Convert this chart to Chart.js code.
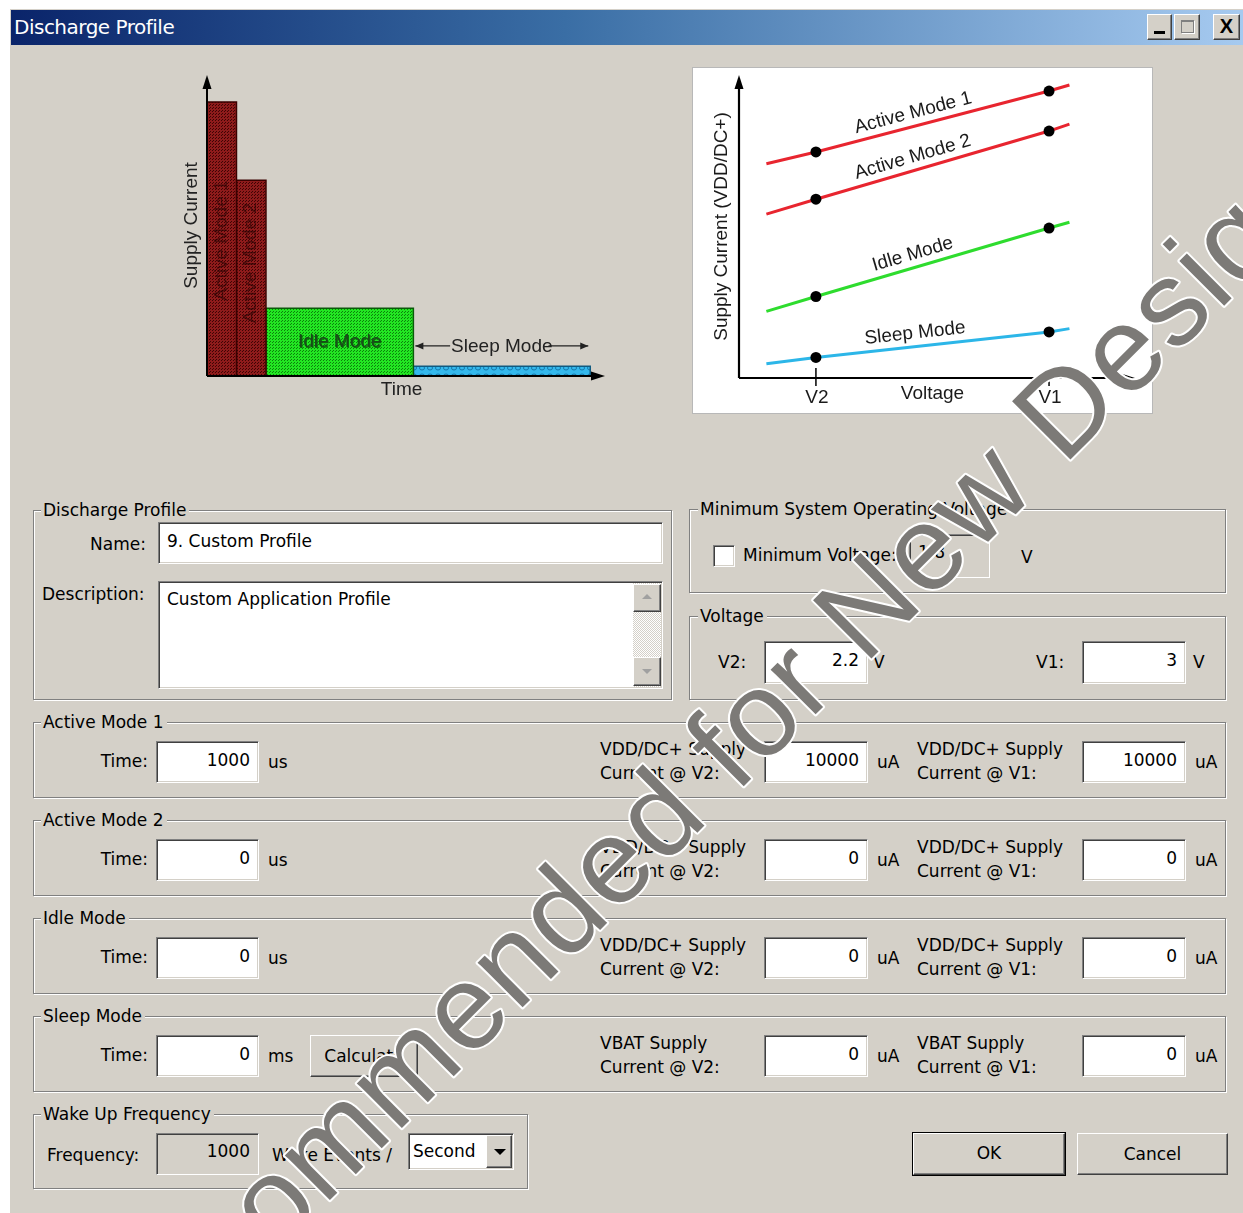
<!DOCTYPE html>
<html>
<head>
<meta charset="utf-8">
<title>Discharge Profile</title>
<script src="https://cdn.jsdelivr.net/npm/chart.js@4.4.1/dist/chart.umd.min.js"></script>
<style>
  body { margin:0; width:1243px; height:1213px; overflow:hidden; position:relative; background:#fff;
         font-family:"DejaVu Sans", sans-serif; font-size:17px; color:#000; }
  .a { position:absolute; box-sizing:border-box; }
  .t { position:absolute; white-space:nowrap; line-height:20px; }
  .grp { position:absolute; box-sizing:border-box; border:1px solid #808080; box-shadow:inset 1px 1px 0 #fff, 1px 1px 0 #fff; }
  .lg { position:absolute; background:#d4d0c8; padding:0 3px 0 2px; line-height:20px; white-space:nowrap; }
  .in { position:absolute; box-sizing:border-box; background:#fff; border:1px solid; border-color:#808080 #fff #fff #808080;
        box-shadow:inset 1px 1px 0 #404040, inset -1px -1px 0 #d4d0c8; text-align:right; padding-right:8px;
        white-space:nowrap; line-height:36px; }
  .dis { background:#d4d0c8; }
  .btn { position:absolute; box-sizing:border-box; background:#d4d0c8; border:1px solid; border-color:#fff #404040 #404040 #fff;
         box-shadow:inset -1px -1px 0 #808080; text-align:center; }
</style>
</head>
<body>
<!-- window -->
<div class="a" style="left:9px;top:8px;width:1234px;height:1205px;background:#d4d0c8;border-left:1px solid #fff;border-top:1px solid #fff"></div>
<div class="a" style="left:11px;top:10px;width:1232px;height:35px;background:linear-gradient(90deg,#0a246a 0%,#3a6ea5 45%,#a6caf0 100%)"></div>
<div class="t" style="left:14px;top:17px;color:#fff;font:20px 'DejaVu Sans',sans-serif;letter-spacing:-0.5px;line-height:20px">Discharge Profile</div>
<div class="btn" style="left:1147px;top:14px;width:25px;height:26px"><div class="a" style="left:6px;top:16px;width:11px;height:3px;background:#000"></div></div>
<div class="btn" style="left:1174px;top:14px;width:26px;height:26px"><div class="a" style="left:6px;top:5px;width:13px;height:13px;border:1px solid #808080;border-top-width:2px;box-shadow:1px 1px 0 #fff"></div></div>
<div class="btn" style="left:1213px;top:14px;width:27px;height:26px;font:bold 20px 'Liberation Sans',Arial,sans-serif;line-height:23px">X</div>

<!-- sketches -->
<canvas id="profile" width="450" height="350" style="position:absolute;left:170px;top:60px"></canvas>
<div class="a" style="left:692px;top:67px;width:461px;height:347px;border:1px solid #b8b8b8;background:#fff"></div>
<canvas id="vcurve" width="459" height="345" style="position:absolute;left:693px;top:68px"></canvas>

<!-- Discharge Profile group -->
<div class="grp" style="left:33px;top:510px;width:639px;height:190px"></div>
<div class="lg" style="left:41px;top:500px">Discharge Profile</div>
<div class="t" style="right:1097px;top:534px">Name:</div>
<div class="in" style="left:158px;top:522px;width:505px;height:42px;text-align:left;padding-left:8px">9. Custom Profile</div>
<div class="t" style="left:42px;top:584px">Description:</div>
<div class="in" style="left:158px;top:581px;width:505px;height:108px;text-align:left;padding-left:8px;line-height:34px">Custom Application Profile</div>
<div class="a" style="left:633px;top:583px;width:28px;height:104px;background:repeating-conic-gradient(#fff 0 25%,#d4d0c8 0 50%) 0 0/2px 2px"></div>
<div class="btn" style="left:633px;top:584px;width:28px;height:28px"><div class="a" style="left:8px;top:9px;width:0;height:0;border-left:5px solid transparent;border-right:5px solid transparent;border-bottom:5px solid #a0a0a0"></div></div>
<div class="btn" style="left:633px;top:657px;width:28px;height:29px"><div class="a" style="left:8px;top:11px;width:0;height:0;border-left:5px solid transparent;border-right:5px solid transparent;border-top:5px solid #a0a0a0"></div></div>

<!-- Minimum System Operating Voltage -->
<div class="grp" style="left:689px;top:509px;width:537px;height:84px"></div>
<div class="lg" style="left:698px;top:499px">Minimum System Operating Voltage</div>
<div class="in" style="left:713px;top:545px;width:22px;height:22px"></div>
<div class="t" style="left:743px;top:545px">Minimum Voltage:</div>
<div class="in dis" style="left:909px;top:534px;width:81px;height:44px;text-align:left;padding-left:8px;line-height:34px">1.8</div>
<div class="t" style="left:1021px;top:547px">V</div>

<!-- Voltage -->
<div class="grp" style="left:689px;top:616px;width:537px;height:84px"></div>
<div class="lg" style="left:698px;top:606px">Voltage</div>
<div class="t" style="left:718px;top:652px">V2:</div>
<div class="in" style="left:764px;top:641px;width:104px;height:43px">2.2</div>
<div class="t" style="left:873px;top:652px">V</div>
<div class="t" style="left:1036px;top:652px">V1:</div>
<div class="in" style="left:1082px;top:641px;width:104px;height:43px">3</div>
<div class="t" style="left:1193px;top:652px">V</div>

<!-- Wake Up Frequency -->
<div class="grp" style="left:33px;top:1114px;width:495px;height:75px"></div>
<div class="lg" style="left:41px;top:1104px">Wake Up Frequency</div>
<div class="t" style="left:47px;top:1145px">Frequency:</div>
<div class="in dis" style="left:156px;top:1133px;width:103px;height:42px;line-height:34px">1000</div>
<div class="t" style="left:272px;top:1145px">Wake Events /</div>
<div class="in" style="left:408px;top:1133px;width:106px;height:37px;text-align:left;padding-left:4px;line-height:34px">Second</div>
<div class="btn" style="left:486px;top:1135px;width:26px;height:33px"><div class="a" style="left:7px;top:13px;width:0;height:0;border-left:6px solid transparent;border-right:6px solid transparent;border-top:6px solid #000"></div></div>

<div class="btn" style="left:913px;top:1133px;width:152px;height:42px;line-height:38px;outline:1px solid #000">OK</div>
<div class="btn" style="left:1077px;top:1133px;width:151px;height:42px;line-height:40px">Cancel</div>

<svg class="a" style="left:0;top:0;z-index:10;pointer-events:none" width="1243" height="1213">
  <text transform="translate(-41 1571) rotate(-45)" font-family="Liberation Sans, Arial, sans-serif" font-size="120" letter-spacing="2"
        fill="#7c7a77" stroke="#fff" stroke-width="4" stroke-linejoin="round" paint-order="stroke">Not Recommended for New Designs</text>
</svg>

<script>
// left sketch: current per mode over one period
const modeNames = ['Active Mode 1', 'Active Mode 2', 'Idle Mode', 'Sleep Mode'];
const modeStart = [0, 1, 2, 7];
const modeEnd = [1, 2, 7, 13];
const modeCurrent = [9.1, 6.5, 2.25, 0.32];

// right sketch: supply current against voltage, dots at V2 and V1
const voltLabels = ['V2', 'V1'];
const voltTicks = [2.2, 3.0];
const voltX = [2.03, 2.2, 3.0, 3.07];
const active1Cur = [70.7, 74.6, 94.7, 96.7];
const active2Cur = [54.1, 59.0, 81.5, 83.8];
const idleCur = [22.0, 26.9, 49.5, 51.4];
const sleepCur = [4.7, 6.8, 15.2, 16.3];

// form rows
const rowTitles = ['Active Mode 1', 'Active Mode 2', 'Idle Mode', 'Sleep Mode'];
const rowTop = [722, 820, 918, 1016];
const rowUnit = ['us', 'us', 'us', 'ms'];
const rowTime = ['1000', '0', '0', '0'];
const rowSupply = ['VDD/DC+ Supply', 'VDD/DC+ Supply', 'VDD/DC+ Supply', 'VBAT Supply'];
const rowCurV2 = ['10000', '0', '0', '0'];
const rowCurV1 = ['10000', '0', '0', '0'];

function put(cls, css, text) {
  const d = document.createElement('div');
  d.className = cls;
  d.style.cssText = css;
  if (text != null) d.textContent = text;
  document.body.insertBefore(d, document.querySelector('svg'));
  return d;
}

rowTitles.forEach((title, i) => {
  const T = rowTop[i];
  put('grp', `left:33px;top:${T}px;width:1193px;height:76px`);
  put('lg', `left:41px;top:${T - 10}px`, title);
  put('t', `right:1095px;top:${T + 29}px`, 'Time:');
  put('in', `left:156px;top:${T + 19}px;width:103px;height:42px`, rowTime[i]);
  put('t', `left:268px;top:${T + 30}px`, rowUnit[i]);
  put('t', `left:600px;top:${T + 17}px`, rowSupply[i]);
  put('t', `left:600px;top:${T + 41}px`, 'Current @ V2:');
  put('in', `left:764px;top:${T + 19}px;width:104px;height:42px`, rowCurV2[i]);
  put('t', `left:877px;top:${T + 30}px`, 'uA');
  put('t', `left:917px;top:${T + 17}px`, rowSupply[i]);
  put('t', `left:917px;top:${T + 41}px`, 'Current @ V1:');
  put('in', `left:1082px;top:${T + 19}px;width:104px;height:42px`, rowCurV1[i]);
  put('t', `left:1195px;top:${T + 30}px`, 'uA');
});
put('btn', 'left:310px;top:1035px;width:108px;height:42px;line-height:40px', 'Calculate');

const chartFont = '19px "Liberation Sans", Arial, sans-serif';

function arrowHead(ctx, x, y, dx, dy, len, half) {
  ctx.beginPath();
  ctx.moveTo(x, y);
  ctx.lineTo(x - dx * len - dy * half, y - dy * len + dx * half);
  ctx.lineTo(x - dx * len + dy * half, y - dy * len - dx * half);
  ctx.closePath();
  ctx.fill();
}

function rotText(ctx, txt, x, y, ang, color) {
  ctx.save();
  ctx.translate(x, y);
  ctx.rotate(ang);
  ctx.fillStyle = color;
  ctx.fillText(txt, 0, 0);
  ctx.restore();
}

function makePattern(ctx, base, dot, kind) {
  const c = document.createElement('canvas');
  c.width = c.height = kind === 'ring' ? 8 : 3;
  const g = c.getContext('2d');
  g.fillStyle = base;
  g.fillRect(0, 0, c.width, c.height);
  if (kind === 'ring') {
    g.strokeStyle = dot;
    g.lineWidth = 1;
    g.beginPath();
    g.ellipse(4, 4, 2.5, 2, 0, 0, Math.PI * 2);
    g.stroke();
  } else {
    g.fillStyle = dot;
    g.fillRect(0, 0, 1, 1);
    g.fillRect(1, 2, 1, 1);
  }
  return ctx.createPattern(c, 'repeat');
}

const pctx = document.getElementById('profile').getContext('2d');
const fills = [
  makePattern(pctx, '#8e1b1b', '#3e0404', 'dot'),
  makePattern(pctx, '#8e1b1b', '#3e0404', 'dot'),
  makePattern(pctx, '#22e622', '#0c800c', 'dot'),
  makePattern(pctx, '#34b8ec', '#1476aa', 'ring')
];
const edges = ['#3a0000', '#3a0000', '#0a5a0a', '#105a80'];

const profileDecor = {
  id: 'profileDecor',
  afterDatasetsDraw(chart) {
    const { ctx, chartArea: a, scales: { x, y } } = chart;
    ctx.save();
    ctx.strokeStyle = '#000';
    ctx.fillStyle = '#000';
    ctx.lineWidth = 2;
    ctx.beginPath();
    ctx.moveTo(a.left, a.bottom); ctx.lineTo(a.left, a.top + 10);
    ctx.moveTo(a.left, a.bottom); ctx.lineTo(a.right - 10, a.bottom);
    ctx.stroke();
    arrowHead(ctx, a.left, a.top, 0, -1, 14, 4.5);
    arrowHead(ctx, a.right, a.bottom, 1, 0, 14, 4.5);

    ctx.font = chartFont;
    ctx.textAlign = 'center';
    ctx.textBaseline = 'middle';
    rotText(ctx, 'Supply Current', a.left - 15, y.getPixelForValue(5), -Math.PI / 2, '#222');
    ctx.fillStyle = '#222';
    ctx.fillText('Time', x.getPixelForValue(6.6), a.bottom + 14);

    // labels inside the two active bars
    const barLabelY = [4.5, 3.75];
    [0, 1].forEach(i => {
      const cx = (x.getPixelForValue(modeStart[i]) + x.getPixelForValue(modeEnd[i])) / 2;
      rotText(ctx, modeNames[i], cx, y.getPixelForValue(barLabelY[i]), -Math.PI / 2, 'rgba(30,0,0,0.55)');
    });

    // idle label
    const ix = (x.getPixelForValue(modeStart[2]) + x.getPixelForValue(modeEnd[2])) / 2;
    const iy = y.getPixelForValue(1.15);
    ctx.fillStyle = '#0d6a0d';
    ctx.fillText(modeNames[2], ix + 1, iy + 1);
    ctx.fillStyle = '#1a4a1a';
    ctx.fillText(modeNames[2], ix, iy);

    // sleep span arrow
    const sx0 = x.getPixelForValue(modeStart[3]) + 2;
    const sx1 = x.getPixelForValue(modeEnd[3]) - 2;
    const sy = y.getPixelForValue(1.0);
    const sc = (sx0 + sx1) / 2;
    const tw = ctx.measureText(modeNames[3]).width;
    ctx.strokeStyle = '#222';
    ctx.fillStyle = '#222';
    ctx.lineWidth = 1.2;
    ctx.beginPath();
    ctx.moveTo(sx0, sy); ctx.lineTo(sc - tw / 2 - 1, sy);
    ctx.moveTo(sc + tw / 2 - 4, sy); ctx.lineTo(sx1, sy);
    ctx.stroke();
    arrowHead(ctx, sx0, sy, -1, 0, 8, 3.5);
    arrowHead(ctx, sx1, sy, 1, 0, 8, 3.5);
    ctx.fillText(modeNames[3], sc, sy + 1);
    ctx.restore();
  }
};

new Chart(pctx, {
  type: 'line',
  data: {
    datasets: modeNames.map((n, i) => ({
      label: n,
      data: [
        { x: modeStart[i], y: 0 },
        { x: modeStart[i], y: modeCurrent[i] },
        { x: modeEnd[i], y: modeCurrent[i] },
        { x: modeEnd[i], y: 0 }
      ],
      fill: 'origin',
      backgroundColor: fills[i],
      borderColor: edges[i],
      borderWidth: 1.5,
      pointRadius: 0,
      tension: 0
    }))
  },
  options: {
    responsive: false,
    animation: false,
    layout: { padding: { left: 37, right: 15, top: 15, bottom: 34 } },
    scales: {
      x: { type: 'linear', display: false, min: 0, max: 13.5 },
      y: { display: false, min: 0, max: 10 }
    },
    plugins: { legend: { display: false }, tooltip: { enabled: false } }
  },
  plugins: [profileDecor]
});

const curveDecor = {
  id: 'curveDecor',
  afterDraw(chart) {
    const { ctx, chartArea: a, scales: { x, y } } = chart;
    ctx.save();
    ctx.strokeStyle = '#000';
    ctx.fillStyle = '#000';
    ctx.lineWidth = 2.2;
    ctx.beginPath();
    ctx.moveTo(a.left, a.bottom); ctx.lineTo(a.left, a.top + 10);
    ctx.moveTo(a.left, a.bottom); ctx.lineTo(a.right - 10, a.bottom);
    ctx.stroke();
    arrowHead(ctx, a.left, a.top, 0, -1, 14, 4.5);
    arrowHead(ctx, a.right, a.bottom, 1, 0, 14, 4.5);

    ctx.font = chartFont;
    ctx.textAlign = 'center';
    ctx.fillStyle = '#1a1a1a';
    ctx.lineWidth = 1.5;
    voltTicks.forEach((v, i) => {
      const px = x.getPixelForValue(v);
      ctx.beginPath();
      ctx.moveTo(px, a.bottom - 10); ctx.lineTo(px, a.bottom + 8);
      ctx.stroke();
      ctx.textBaseline = 'alphabetic';
      ctx.fillText(voltLabels[i], px + 1, a.bottom + 25);
    });
    ctx.fillText('Voltage', x.getPixelForValue(2.6), a.bottom + 21);
    ctx.textBaseline = 'middle';
    rotText(ctx, 'Supply Current (VDD/DC+)', a.left - 17, (a.top + a.bottom) / 2, -Math.PI / 2, '#1a1a1a');

    // mode names along each line
    ctx.textBaseline = 'alphabetic';
    const lx = x.getPixelForValue(2.545);
    chart.data.datasets.forEach((ds, i) => {
      const pts = chart.getDatasetMeta(i).data;
      const p1 = pts[1], p2 = pts[2];
      const ang = Math.atan2(p2.y - p1.y, p2.x - p1.x);
      const ly = p1.y + (lx - p1.x) * (p2.y - p1.y) / (p2.x - p1.x);
      ctx.save();
      ctx.translate(lx, ly);
      ctx.rotate(ang);
      ctx.fillText(ds.label, 0, -8);
      ctx.restore();
    });
    ctx.restore();
  }
};

const curveNames = ['Active Mode 1', 'Active Mode 2', 'Idle Mode', 'Sleep Mode'];
const curveValues = [active1Cur, active2Cur, idleCur, sleepCur];
const curveColors = ['#e8252f', '#e8252f', '#2edc2e', '#2cb6e8'];

new Chart(document.getElementById('vcurve'), {
  type: 'line',
  data: {
    datasets: curveNames.map((n, i) => ({
      label: n,
      data: voltX.map((v, j) => ({ x: v, y: curveValues[i][j] })),
      borderColor: curveColors[i],
      borderWidth: 3,
      pointRadius: [0, 5.5, 5.5, 0],
      pointBackgroundColor: '#000',
      pointBorderWidth: 0,
      tension: 0,
      fill: false
    }))
  },
  options: {
    responsive: false,
    animation: false,
    layout: { padding: { left: 46, right: 17, top: 7, bottom: 35 } },
    scales: {
      x: { type: 'linear', display: false, min: 1.936, max: 3.295 },
      y: { display: false, min: 0, max: 100 }
    },
    plugins: { legend: { display: false }, tooltip: { enabled: false } }
  },
  plugins: [curveDecor]
});
</script>
</body>
</html>
